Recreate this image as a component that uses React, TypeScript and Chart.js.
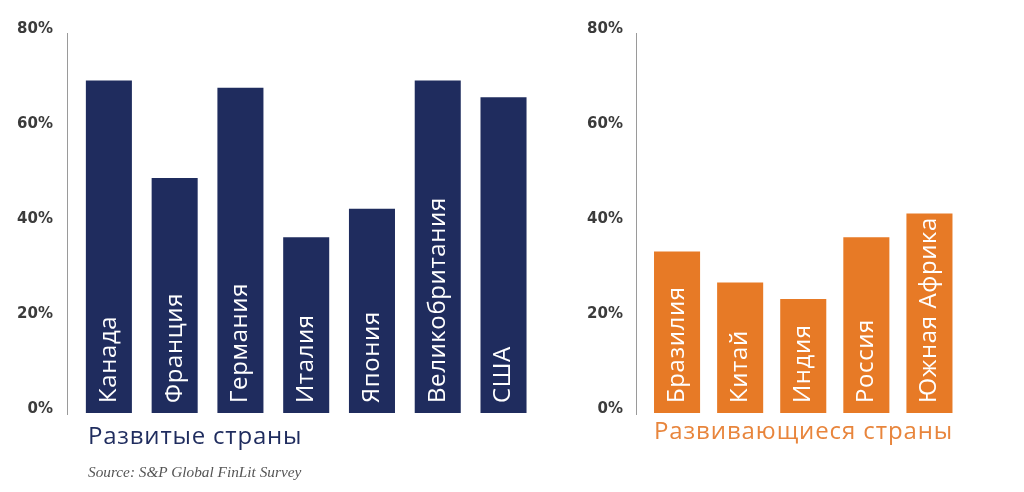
import React, { useEffect, useRef } from "react";
import { Chart, registerables } from "chart.js";

Chart.register(...registerables);

const devCategories = ["Канада", "Франция", "Германия", "Италия", "Япония", "Великобритания", "США"];
const devValues = [70, 49.5, 68.5, 37, 43, 70, 66.5];
const emCategories = ["Бразилия", "Китай", "Индия", "Россия", "Южная Африка"];
const emValues = [34, 27.5, 24, 37, 42];
const yMin = 0;
const yMax = 80;
const yStep = 20;
const devTitle = "Развитые страны";
const emTitle = "Развивающиеся страны";
const sourceText = "Source: S&P Global FinLit Survey";

const NAVY = "#1f2c5e";
const ORANGE = "#e77a26";

const barLabelPlugin = {
  id: "barLabels",
  afterDatasetsDraw(chart: any) {
    const ctx = chart.ctx;
    const meta = chart.getDatasetMeta(0);
    const labels = chart.data.labels as string[];
    ctx.save();
    ctx.fillStyle = "#ffffff";
    ctx.font = '24px "Open Sans"';
    (ctx as any).letterSpacing = "0.6px";
    ctx.textAlign = "left";
    ctx.textBaseline = "middle";
    meta.data.forEach((bar: any, i: number) => {
      ctx.save();
      ctx.translate(bar.x, bar.base - 10);
      ctx.rotate(-Math.PI / 2);
      ctx.fillText(labels[i], 0, 0);
      ctx.restore();
    });
    ctx.restore();
  },
};

const axisLinePlugin = {
  id: "axisLine",
  afterDraw(chart: any, _args: any, opts: any) {
    const { ctx, chartArea } = chart;
    const x = Math.round(chartArea.left - opts.gap) + 0.5;
    ctx.save();
    ctx.strokeStyle = "#9a9a9a";
    ctx.lineWidth = 1;
    ctx.beginPath();
    ctx.moveTo(x, chartArea.top);
    ctx.lineTo(x, chartArea.bottom + 2);
    ctx.stroke();
    ctx.restore();
  },
};

type BarProps = {
  labels: string[];
  values: number[];
  color: string;
  width: number;
  left: number;
  yWidth: number;
  tickPad: number;
  rightPad: number;
  barPct: number;
  gap: number;
};

function BarPanel(p: BarProps) {
  const ref = useRef<HTMLCanvasElement | null>(null);
  useEffect(() => {
    if (!ref.current) return;
    const chart = new Chart(ref.current, {
      type: "bar",
      data: {
        labels: p.labels,
        datasets: [
          {
            data: p.values,
            backgroundColor: p.color,
            borderWidth: 0,
            barPercentage: p.barPct,
            categoryPercentage: 1,
          },
        ],
      },
      options: {
        animation: false,
        responsive: false,
        devicePixelRatio: 1,
        layout: { padding: { left: 0, right: p.rightPad, top: 33, bottom: 79 } },
        plugins: {
          legend: { display: false },
          tooltip: { enabled: false },
          axisLine: { gap: p.gap },
        } as any,
        scales: {
          x: { display: false, offset: true },
          y: {
            min: yMin,
            max: yMax,
            grid: { display: false, drawTicks: false },
            border: { display: false },
            afterFit: (scale: any) => {
              scale.width = p.yWidth;
            },
            ticks: {
              stepSize: yStep,
              padding: p.tickPad,
              labelOffset: -4,
              color: "#3b3b3b",
              font: { family: '"DejaVu Sans"', weight: "bold", size: 15 },
              callback: (v: any) => v + "%",
            },
          },
        },
      },
      plugins: [barLabelPlugin, axisLinePlugin],
    });
    return () => chart.destroy();
  }, []);
  return (
    <canvas
      ref={ref}
      width={p.width}
      height={492}
      style={{ position: "absolute", left: p.left, top: 0, width: p.width, height: 492 }}
    />
  );
}

export default function App() {
  return (
    <div
      style={{
        position: "absolute",
        left: 0,
        top: 0,
        width: 1024,
        height: 492,
        background: "#ffffff",
        overflow: "hidden",
      }}
    >
      <BarPanel
        labels={devCategories}
        values={devValues}
        color={NAVY}
        width={560}
        left={0}
        yWidth={76}
        tickPad={23}
        rightPad={23.6}
        barPct={0.7}
        gap={9}
      />
      <BarPanel
        labels={emCategories}
        values={emValues}
        color={ORANGE}
        width={464}
        left={560}
        yWidth={85.5}
        tickPad={22.5}
        rightPad={63}
        barPct={0.73}
        gap={9.5}
      />
      <div
        style={{
          position: "absolute",
          left: 88,
          top: 423,
          fontFamily: '"Open Sans"',
          fontSize: 24,
          lineHeight: "24px",
          letterSpacing: "0.8px",
          color: NAVY,
          whiteSpace: "nowrap",
        }}
      >
        {devTitle}
      </div>
      <div
        style={{
          position: "absolute",
          left: 654,
          top: 418,
          fontFamily: '"Open Sans"',
          fontSize: 24,
          lineHeight: "24px",
          letterSpacing: "0.9px",
          color: "#e8853c",
          whiteSpace: "nowrap",
        }}
      >
        {emTitle}
      </div>
      <div
        style={{
          position: "absolute",
          left: 88,
          top: 464,
          fontFamily: '"Liberation Serif"',
          fontStyle: "italic",
          fontSize: 15.3,
          lineHeight: "15px",
          color: "#555555",
          whiteSpace: "nowrap",
        }}
      >
        {sourceText}
      </div>
    </div>
  );
}
